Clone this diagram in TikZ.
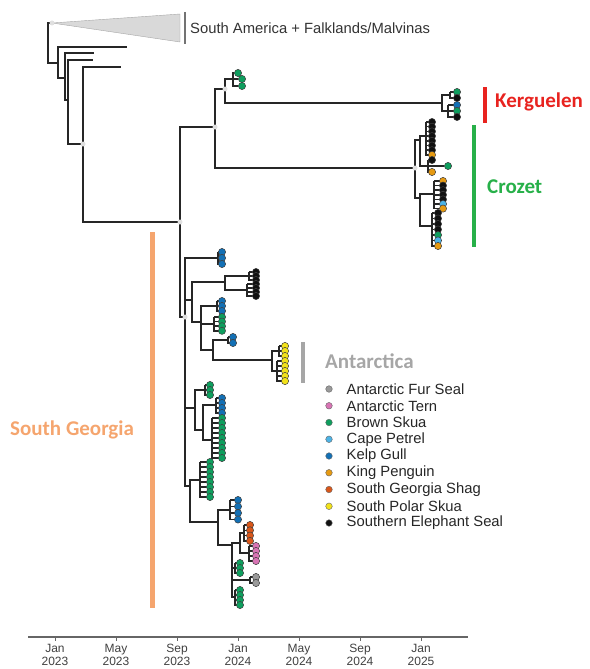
\documentclass[tikz,border=0pt]{standalone}
\usepackage{fontspec}
\setmainfont{Liberation Sans}
\newfontfamily\regionfont{Carlito}
\usetikzlibrary{positioning}

\definecolor{furseal}{HTML}{9A9A9A}
\definecolor{tern}{HTML}{D874B4}
\definecolor{brownskua}{HTML}{0E9E5E}
\definecolor{petrel}{HTML}{4CB3E6}
\definecolor{kelpgull}{HTML}{1370B5}
\definecolor{penguin}{HTML}{E69A12}
\definecolor{shag}{HTML}{D9571A}
\definecolor{polarskua}{HTML}{F2E21A}
\definecolor{eleseal}{HTML}{111111}
\definecolor{kergred}{HTML}{E8231F}
\definecolor{crozgreen}{HTML}{27B049}
\definecolor{sgorange}{HTML}{F5A56E}
\definecolor{antgrey}{HTML}{A6A6A6}

% column of tips: name, stem x, tip x, first y, step, colours
\newcommand{\tiplist}[6]{%
  \foreach \c [count=\k] in {#6}{
    \draw[branch] (#2,#4) -- (#2,{#4+(\k-1)*#5}) -- (#3,{#4+(\k-1)*#5});
  }
  \foreach \c [count=\k] in {#6}{
    \node[tip, fill=\c] (#1-\k) at (#3,{#4+(\k-1)*#5}) {};
  }
}

\begin{document}
\begin{tikzpicture}[
        x=1pt, y=-1pt,
        branch/.style={draw=black!85, line width=1.5pt},
        tip/.style={circle, draw=black!75, line width=0.5pt, inner sep=0pt, minimum size=7.2pt},
        nodemark/.style={circle, fill=black!12, inner sep=0pt, minimum size=5pt},
        bar/.style={line width=4pt},
        region/.style={font=\regionfont\bfseries\fontsize{21}{21}\selectfont, anchor=west, inner sep=0pt},
        legdot/.style={circle, draw=black!60, line width=0.4pt, inner sep=0pt, minimum size=6.6pt},
        legtext/.style={font=\fontsize{14.8}{16}\selectfont, text=black!85, anchor=west, inner sep=0pt},
        axislabel/.style={font=\fontsize{12}{13}\selectfont, align=center, anchor=north, inner sep=0pt, text=black!75}
    ]

    \useasboundingbox (0,0) rectangle (589,669);

    % outgroup
    \coordinate (r0) at (48,43);
    \coordinate (sa) at (52,23);
    \coordinate (o1) at (58,63);
    \coordinate (ot1) at (127,47);
    \coordinate (o2) at (65,78);
    \coordinate (ot2) at (94,53);
    \coordinate (o3) at (68,100);
    \coordinate (ot3) at (93,60);
    \coordinate (o4) at (83,144);
    \coordinate (ot4) at (121,67);

    \fill[black!15, draw=black!35, line width=0.4pt] (sa) -- (180,14) -- (180,42) -- cycle;
    \draw[black!55, line width=2.5pt] (185,12) -- (185,44);
    \node[legtext, text=black!80] (samer) at (190,28) {South America + Falklands/Malvinas};

    % main clades
    \coordinate (f) at (180,222);
    \coordinate (g) at (215,127);
    \coordinate (h) at (225,89);
    \coordinate (hg) at (233,79);
    \coordinate (kg) at (442,103);
    \coordinate (kg1) at (450,95);
    \coordinate (kg2) at (448,111);
    \coordinate (cz) at (415,168);
    \coordinate (czu) at (420,140);
    \coordinate (czu1) at (426,136);
    \coordinate (czu2) at (428,166);
    \coordinate (czl) at (420,198);
    \coordinate (czl1) at (434,194);
    \coordinate (czl2) at (432,226);

    % South Georgia
    \coordinate (sg) at (185,317);
    \coordinate (b1) at (218,258);
    \coordinate (n2) at (192,300);
    \coordinate (bk) at (225,282);
    \coordinate (bk1) at (249,276);
    \coordinate (bk2) at (247,290);
    \coordinate (n4) at (201,322);
    \coordinate (b2) at (217,306);
    \coordinate (gr) at (214,324);
    \coordinate (n5) at (213,350);
    \coordinate (b3) at (228,340);
    \coordinate (yl) at (272,360);
    \coordinate (yl1) at (279,351);
    \coordinate (yl2) at (277,371);
    \coordinate (n6) at (195,408);
    \coordinate (g7) at (205,390);
    \coordinate (n8) at (203,430);
    \coordinate (b4) at (216,405);
    \coordinate (n9) at (212,440);
    \coordinate (r2) at (190,486);
    \coordinate (g3) at (200,480);
    \coordinate (n10) at (218,522);
    \coordinate (b5) at (230,510);
    \coordinate (n11) at (232,545);
    \coordinate (op) at (240,543);
    \coordinate (sh) at (244,533);
    \coordinate (pk) at (249,553);
    \coordinate (g4) at (235,568);
    \coordinate (gy) at (250,580);
    \coordinate (g5) at (235,597);

    \draw[branch] (r0) |- (sa) (r0) |- (o1);
    \draw[branch] (o1) |- (ot1) (o1) |- (o2);
    \draw[branch] (o2) |- (ot2) (o2) |- (o3);
    \draw[branch] (o3) |- (ot3) (o3) |- (o4);
    \draw[branch] (o4) |- (ot4) (o4) |- (f);
    \draw[branch] (f) |- (g) (f) |- (sg);
    \draw[branch] (g) |- (h) (g) |- (cz);
    \draw[branch] (h) |- (hg) (h) |- (kg);
    \draw[branch] (kg) |- (kg1) (kg) |- (kg2);
    \draw[branch] (cz) |- (czu) (cz) |- (czl);
    \draw[branch] (czu) |- (czu1) (czu) |- (czu2);
    \draw[branch] (czl) |- (czl1) (czl) |- (czl2);

    \draw[branch] (sg) |- (b1) (sg) |- (n2) (sg) |- (n6) (sg) |- (r2);
    \draw[branch] (n2) |- (bk) (n2) |- (n4);
    \draw[branch] (bk) |- (bk1) (bk) |- (bk2);
    \draw[branch] (n4) |- (b2) (n4) |- (gr) (n4) |- (n5);
    \draw[branch] (n5) |- (b3) (n5) |- (yl);
    \draw[branch] (yl) |- (yl1) (yl) |- (yl2);
    \draw[branch] (n6) |- (g7) (n6) |- (n8);
    \draw[branch] (n8) |- (b4) (n8) |- (n9);
    \draw[branch] (r2) |- (g3) (r2) |- (n10);
    \draw[branch] (n10) |- (b5) (n10) |- (n11);
    \draw[branch] (n11) |- (op) (n11) |- (g4) (n11) |- (gy) (n11) |- (g5);
    \draw[branch] (op) |- (sh) (op) |- (pk);

    % tips
    \node[tip, fill=brownskua] (hg-1) at (238,73) {};
    \node[tip, fill=brownskua] (hg-2) at (242,79) {};
    \node[tip, fill=brownskua] (hg-3) at (242,86) {};
    \draw[branch] (hg) |- (hg-1) (hg) |- (hg-2) (hg) |- (hg-3);

    \tiplist{kga}{450}{457}{92}{6}{brownskua,eleseal}
    \tiplist{kgb}{448}{457}{105}{6}{kelpgull,brownskua,eleseal}
    \tiplist{cza}{426}{432}{122}{4.7}{eleseal,eleseal,eleseal,eleseal,eleseal,eleseal,eleseal,penguin}
    \tiplist{czb}{428}{432}{160}{12}{eleseal,penguin}
    \node[tip, fill=brownskua] (czg) at (448,166) {};
    \draw[branch] (czu2) -- (czg);
    \tiplist{czc}{434}{443}{181}{4.6}{penguin,eleseal,eleseal,eleseal,eleseal,petrel,penguin}
    \tiplist{czd}{432}{438}{213}{5.5}{eleseal,eleseal,eleseal,eleseal,brownskua,petrel,penguin}

    \tiplist{sga}{218}{222}{252}{6}{kelpgull,kelpgull,kelpgull}
    \tiplist{sgb}{249}{256}{272}{4}{eleseal,eleseal,eleseal}
    \tiplist{sgc}{247}{256}{284}{4}{eleseal,eleseal,eleseal,eleseal}
    \tiplist{sgd}{217}{222}{301}{5}{kelpgull,kelpgull,kelpgull}
    \tiplist{sge}{214}{222}{317}{4.6}{brownskua,brownskua,brownskua,brownskua}
    \tiplist{sgf}{228}{233}{337}{6}{kelpgull,kelpgull}
    \tiplist{sgg}{279}{285}{346}{5}{polarskua,polarskua,polarskua}
    \tiplist{sgh}{277}{285}{361}{5}{polarskua,polarskua,polarskua,polarskua,polarskua}
    \tiplist{sgi}{205}{210}{385}{5}{brownskua,brownskua,brownskua}
    \tiplist{sgj}{216}{222}{398}{5}{kelpgull,kelpgull,kelpgull,kelpgull}
    \tiplist{sgk}{212}{222}{418}{5}{brownskua,brownskua,brownskua,brownskua,brownskua,brownskua,brownskua,brownskua,brownskua}
    \tiplist{sgl}{200}{210}{462}{5}{brownskua,brownskua,brownskua,brownskua,brownskua,brownskua,brownskua,brownskua}
    \tiplist{sgm}{230}{238}{500}{6.5}{kelpgull,kelpgull,kelpgull,kelpgull}
    \tiplist{sgn}{244}{250}{525}{5.3}{shag,shag,shag,shag}
    \tiplist{sgo}{249}{256}{546}{5}{tern,tern,tern,tern}
    \tiplist{sgp}{235}{240}{563}{5}{brownskua,brownskua,brownskua}
    \tiplist{sgq}{250}{256}{577}{6}{furseal,furseal}
    \tiplist{sgr}{235}{240}{590}{5}{brownskua,brownskua,brownskua,brownskua}

    % faint node markers
    \foreach \p in {sa, o4, f, g, h, cz, sg}
        \node[nodemark] (mk-\p) at (\p) {};

    % regions
    \draw[bar, kergred] (485,87) -- (485,123);
    \node[region, text=kergred] (kerg) at (495,102) {Kerguelen};
    \draw[bar, crozgreen] (474,125) -- (474,247);
    \node[region, text=crozgreen] (croz) at (487,187) {Crozet};
    \draw[bar, sgorange, line width=5pt] (152,232) -- (152,608);
    \node[region, text=sgorange] (sgeo) at (10,430) {South Georgia};
    \draw[bar, antgrey] (303,342) -- (303,383);
    \node[region, text=antgrey] (anta) at (325,361) {Antarctica};

    % legend
    \foreach \c/\t [count=\k] in {furseal/Antarctic Fur Seal, tern/Antarctic Tern,
            brownskua/Brown Skua, petrel/Cape Petrel, kelpgull/Kelp Gull,
            penguin/King Penguin, shag/South Georgia Shag, polarskua/South Polar Skua,
            eleseal/Southern Elephant Seal} {
        \node[legdot, fill=\c] (ld-\k) at (329,{389+(\k-1)*16.75}) {};
        \node[legtext, right=14pt of ld-\k] (lt-\k) {\t};
    }

    % time axis
    \draw[black!60, line width=2pt] (28,637) -- (468,637);
    \foreach \x/\m/\yr [count=\k] in {55/Jan/2023, 116/May/2023, 177/Sep/2023,
            238/Jan/2024, 299/May/2024, 360/Sep/2024, 421/Jan/2025} {
        \draw[black!60, line width=1pt] (\x,637) -- (\x,641);
        \node[axislabel] (tick-\k) at (\x,644) {\m\\\yr};
    }

\end{tikzpicture}
\end{document}
